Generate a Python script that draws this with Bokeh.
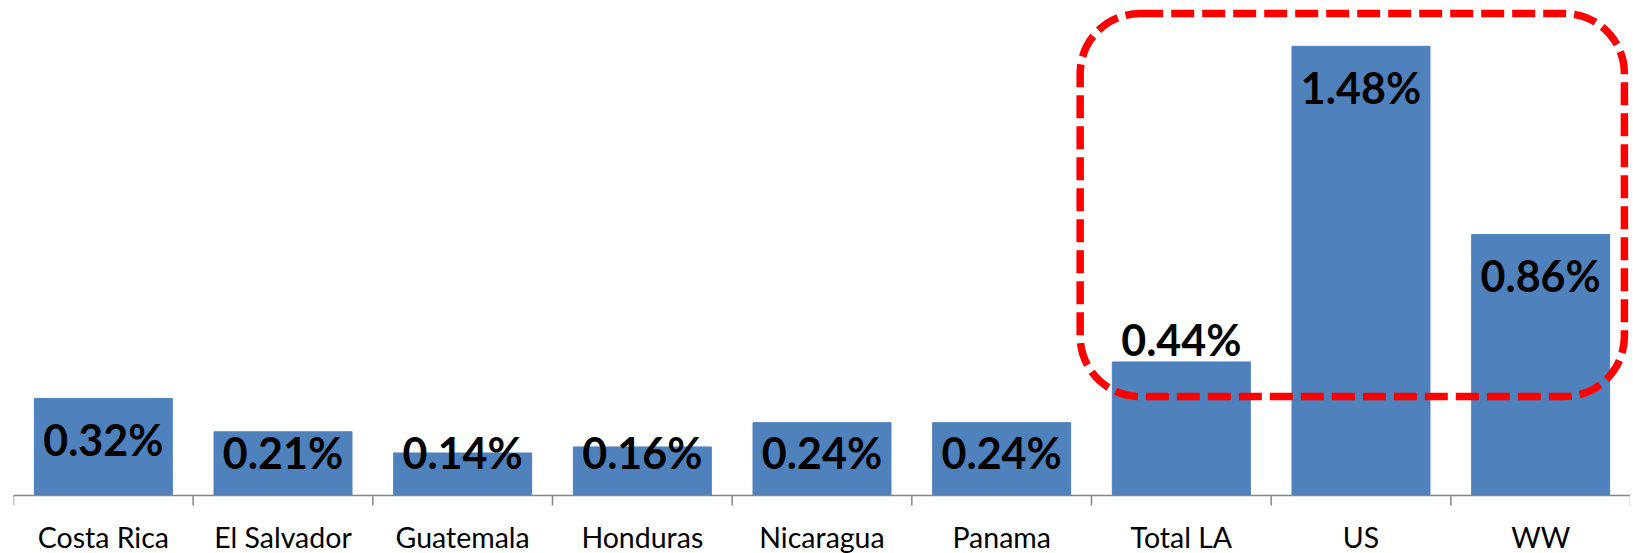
from bokeh.plotting import figure
from bokeh.models import Range1d, BoxAnnotation, ColumnDataSource, Span
from bokeh.core.properties import value
from bokeh.embed import file_html
from bokeh.resources import INLINE

# ---- data ----
categories = ["Costa Rica", "El Salvador", "Guatemala", "Honduras", "Nicaragua",
              "Panama", "Total LA", "US", "WW"]
shares = [0.32, 0.21, 0.14, 0.16, 0.24, 0.24, 0.44, 1.48, 0.86]   # percent
label_texts = [f"{v:.2f}%" for v in shares]
label_outside = ["Total LA"]

# ---- layout constants ----
W, H = 1630, 553
ZERO_TO_TOP_PX = 495
BELOW_ZERO_PX = H - ZERO_TO_TOP_PX
PX_PER_PCT = 303.5
Y_START = -BELOW_ZERO_PX / PX_PER_PCT
Y_END = ZERO_TO_TOP_PX / PX_PER_PCT
AXIS_COLOR = "#868686"

xs = list(range(len(categories)))
bounds = [i - 0.5 for i in range(len(categories) + 1)]

def label_y(cat, v):
    if cat in label_outside:
        return v + 22 / PX_PER_PCT
    return max(v - 41 / PX_PER_PCT, 43 / PX_PER_PCT)

src = ColumnDataSource(dict(
    x=xs, top=shares, lab=label_texts, cat=categories,
    cy=[-41 / PX_PER_PCT] * len(xs),
    ly=[label_y(c, v) for c, v in zip(categories, shares)],
))

p = figure(width=W, height=H, x_range=Range1d(-0.5, len(categories) - 0.5),
           y_range=Range1d(Y_START, Y_END), output_backend="svg", toolbar_location=None,
           min_border_left=13, min_border_right=0, min_border_top=0,
           min_border_bottom=0)
p.background_fill_color = "white"
p.border_fill_color = "white"
p.outline_line_color = None
p.xgrid.visible = False
p.ygrid.visible = False
p.yaxis.visible = False
p.xaxis.visible = False

p.vbar(x="x", top="top", bottom=0, width=0.768, source=src,
       fill_color="#4F81BD", line_color="#4F81BD", line_width=1)

# value labels
p.text(x="x", y="ly", text="lab", source=src,
       text_font=value("Lato"), text_font_style="bold", text_font_size="43px",
       text_align="center", text_baseline="middle", text_color="black")

# category axis: line, boundary ticks, labels
p.add_layout(Span(location=0, dimension="width", line_color=AXIS_COLOR, line_width=1.5))
p.segment(x0=bounds, x1=bounds, y0=[0] * len(bounds),
          y1=[-10 / PX_PER_PCT] * len(bounds), line_color=AXIS_COLOR, line_width=1.5)
p.text(x="x", y="cy", text="cat", source=src,
       text_font=value("Lato"), text_font_size="28.5px",
       text_align="center", text_baseline="alphabetic", text_color="black")

# highlight box around Total LA / US / WW
box = BoxAnnotation(left=5.437, right=8.466, top=1.588, bottom=0.326,
                    fill_alpha=0, line_color="#FF0000", line_alpha=1.0,
                    line_width=7.5, line_dash="23 8", border_radius=60)
p.add_layout(box)

open("out.html", "w").write(file_html(p, INLINE))
